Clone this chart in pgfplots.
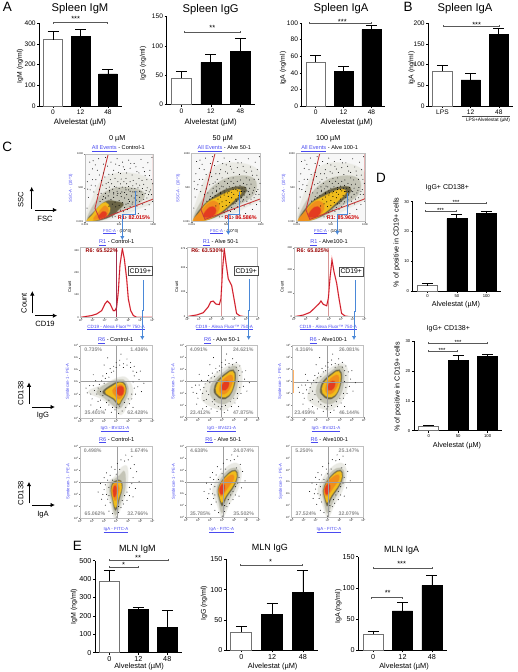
\documentclass[border=0pt]{standalone}
\usepackage{fontspec}
\setmainfont{Liberation Sans}
\usepackage{pgfplots}
\pgfplotsset{compat=1.18}
\usetikzlibrary{arrows.meta}
\definecolor{lnkb}{HTML}{4A4AF0}
\definecolor{arrb}{HTML}{4A88D8}
\definecolor{gatered}{HTML}{C83A3A}
\definecolor{c0}{HTML}{EAEAE4}
\definecolor{c1}{HTML}{C4C4B6}
\definecolor{c2}{HTML}{6A6446}
\definecolor{c3}{HTML}{F0BC1C}
\definecolor{c4}{HTML}{F08E1C}
\definecolor{c5}{HTML}{E43C20}
\definecolor{pct}{HTML}{8E8E8E}
\newcommand\F[1]{\fontsize{#1}{#1}\selectfont}
\newcommand\T[5][]{\node[inner sep=0pt,#1] at (#2pt,-#3pt) {\F{#4}#5};}
\newcommand\Pc[3]{\T[text=pct]{#1}{#2}{5.2}{\textbf{#3\%}}}
\newcommand\lnk[1]{\textcolor{lnkb}{\underline{#1}}}
\newcommand\tl[1]{10\raisebox{.7pt}{\F{1.7}#1}}
\newcommand\Br[3]{\draw[line width=.5pt,black!65] (#1pt,-#3pt-1pt) -- (#1pt,-#3pt+1pt) (#1pt,-#3pt) -- (#2pt,-#3pt) (#2pt,-#3pt-1pt) -- (#2pt,-#3pt+1pt);}
\newcommand\Blob[2]{\addplot[smooth cycle,tension=.7,fill=#1,draw=#1,draw opacity=.45,line width=1.3pt,forget plot] coordinates {#2};}
\pgfplotsset{
 barax/.style={scale only axis,anchor=south west,xmin=-.5,xmax=2.5,ymin=0,axis lines=left,
  axis line style={-,line width=.7pt},clip=false,ybar,bar shift=0pt,bar width=.68,
  xtick={0,1,2},tick style={black,line width=.6pt},major tick length=2pt,tick align=outside,
  /pgf/number format/assume math mode=true,
  error bars/y dir=plus,error bars/y explicit,
  error bars/error bar style={black,line width=.8pt},
  error bars/error mark options={rotate=90,black,line width=.8pt,mark size=5.5pt},
  xticklabel style={inner sep=1.5pt},yticklabel style={inner sep=1.5pt}},
 fA/.style={tick label style={font=\F{6.6}},xticklabels={0,12,48}},
 fE/.style={tick label style={font=\F{7.2}},xticklabels={0,12,48}},
 fD/.style={tick label style={font=\F{4.2}},xticklabels={0,50,100},
   error bars/error mark options={rotate=90,black,line width=.8pt,mark size=5.5pt}},
 whitebar/.style={fill=white,draw=black!55,line width=1pt},
 blackbar/.style={fill=black,draw=black,line width=.5pt},
 pbase/.style={scale only axis,anchor=south west,axis on top,
  axis line style={black!25,line width=.8pt},
  tick style={black!50,line width=.3pt},major tick length=1.2pt,tick align=outside,
  xtick pos=bottom,ytick pos=left,
  tick label style={font=\F{2.6},inner sep=.6pt},
  /pgf/number format/assume math mode=true},
 fsc/.style={pbase,xmin=0,xmax=1000,ymin=0,ymax=1000,xtick={0,500,1000},ytick={0,500,1000},
  xticklabels={0.001,500,1000},yticklabels={0.001,500,1000}},
 hist/.style={pbase,xmin=0,xmax=6,ymin=0,xtick={0,1,2,3,4,5,6},
  xticklabels={\tl0,\tl1,\tl2,\tl3,\tl4,\tl5,\tl6}},
 quad/.style={pbase,xmin=0,xmax=6,ymin=0,ymax=6,xtick={0,1,2,3,4,5,6},ytick={0,1,2,3,4,5,6},
  xticklabels={\tl0,\tl1,\tl2,\tl3,\tl4,\tl5,\tl6},
  yticklabels={\tl0,\tl1,\tl2,\tl3,\tl4,\tl5,\tl6}},
 dots/.style={only marks,mark=*,mark size=.2pt,forget plot,mark options={draw=none,fill=black!45}},
 ddots/.style={only marks,mark=*,mark size=.24pt,forget plot,mark options={draw=none,fill=black!75}},
 cross/.style={black!38,line width=.8pt,forget plot}
}
% hand-read speckle clouds
\newcommand\FSCdots{\addplot[dots] coordinates {
(120,900)(180,760)(240,610)(300,950)(330,820)(350,700)(380,880)(420,760)(440,640)(470,930)(500,830)(520,710)
(550,880)(580,770)(600,640)(640,910)(660,790)(690,690)(720,860)(760,740)(790,640)(820,920)(850,800)(880,680)
(920,870)(950,760)(970,620)(60,700)(90,540)(130,440)(160,620)(210,480)(260,540)(290,660)(340,580)(390,560)
(430,520)(480,590)(520,560)(570,590)(610,560)(660,590)(700,530)(750,560)(800,540)(860,550)(910,500)(960,470)
(820,440)(760,440)(700,440)(640,470)(580,430)(520,420)(470,450)(420,430)(360,440)(880,420)(930,400)(860,330)
(800,300)(740,300)(690,260)(630,270)(580,210)(520,170)(470,130)(400,70)(440,80)(560,150)(620,180)(660,220)
(30,200)(50,360)(40,480)(110,780)(70,880)(200,930)(270,850)(980,950)(990,300)(940,250)(880,180)(780,120)(700,100)(600,60)
(150,840)(210,690)(270,720)(310,560)(370,620)(405,700)(450,850)(490,730)(530,630)(560,810)(610,720)(670,860)(705,610)(745,810)(790,720)
(835,610)(870,740)(905,620)(945,680)(990,560)(35,590)(75,470)(110,620)(150,530)(185,400)(235,420)(270,370)(310,490)(355,510)(405,480)
(455,510)(500,490)(545,510)(595,500)(640,520)(685,490)(730,490)(775,500)(840,490)(895,460)(940,440)(975,400)(905,350)(845,260)(760,230)
};}
\newcommand\FSCband{\addplot[ddots] coordinates {
(300,350)(340,380)(380,330)(420,360)(440,290)(470,390)(500,310)(530,370)(550,280)(580,350)(610,400)(640,330)(680,380)(720,350)(760,390)
(800,360)(840,400)(400,260)(450,220)(500,240)(350,230)(300,420)(260,330)(220,300)(600,260)(650,300)(700,290)(750,320)(540,440)(600,470)
(660,450)(720,440)(480,420)(420,410)(360,460)(800,450)
};}
\newcommand\GGdots{\addplot[dots] coordinates {
(.6,2.1)(.8,2.7)(1,1.6)(1.2,2.3)(1.3,3.1)(1.5,1.4)(1.6,2.8)(1.7,.9)(1.9,3.5)(1.9,1.9)(2.1,.7)(2.2,3.7)(2.4,1.1)(2.5,4.1)
(2.6,.5)(2.8,4.3)(2.9,.7)(3,4.6)(3.2,.4)(3.3,4.8)(3.5,.6)(3.6,4.5)(3.8,.9)(3.9,4.9)(4.1,1.2)(4.2,4.6)(4.3,1.6)(4.5,4.3)
(4.6,2)(4.7,3.8)(4.8,2.6)(4.9,3.2)(5,3.9)(5.1,2.2)(1.1,3.6)(.9,1.1)(1.4,.7)(2,4.4)(4.4,.9)(5.3,2.9)(3.4,5.3)(2.3,5)
(.5,2.5)(.9,2)(1.1,2.7)(1.4,2)(1.5,2.5)(1.7,2.2)(1.8,3.1)(1.7,1.5)(2,2.9)(2.1,3.3)(2.2,1.3)(2.4,3.4)(2.6,3.8)(2.8,3.9)(3,4.2)
(3.3,4.4)(3.6,4.2)(3.9,4.4)(4.2,4.2)(4.4,3.9)(4.5,3.5)(4.4,3)(4.5,2.5)(4.3,2)(4,1.6)(3.7,1.3)(3.3,1)(3,.9)(2.7,.9)(2.4,1.5)
};}
\newcommand\GAdots{\addplot[dots] coordinates {
(1.5,2.2)(1.7,2.9)(1.8,1.6)(2,3.4)(2,2.4)(2.1,1.1)(2.2,3.8)(2.3,1.6)(2.4,.6)(2.5,3.6)(2.6,4.3)(2.7,.4)(2.9,4.1)(3,.1)
(3.1,4.6)(3.2,.5)(3.4,.9)(3.4,4.9)(3.6,1.2)(3.7,4.8)(3.9,1.5)(4,4.9)(4.1,1.9)(4.4,1.8)(4.5,4.5)(4.6,2.5)(4.7,3.9)(4.9,3.1)(4.3,5.2)(3.8,5.3)
(1.9,2)(2.1,2.8)(2.2,2)(2.3,3.2)(2.4,1.9)(2.4,2.6)(2.5,1.3)(2.7,3.2)(3,3.7)(3.2,1)(3.3,4.1)(3.5,1.5)(3.7,1.9)(3.9,2.2)(4.1,2.6)(4.3,2.9)(4.4,3.4)(4.2,4.2)
};}
% density contours
\newcommand\FSCa{%
\Blob{c0}{(15,15)(90,300)(280,640)(650,720)(990,580)(990,300)(800,200)(500,80)(250,15)}
\Blob{c1}{(30,25)(140,270)(300,440)(550,510)(850,440)(800,280)(550,180)(350,70)(150,18)}
\Blob{c2}{(40,25)(160,170)(310,300)(440,300)(560,260)(480,170)(400,90)(200,20)}
\Blob{c3}{(25,15)(100,90)(200,220)(300,285)(365,200)(330,105)(220,40)(100,12)}
\Blob{c4}{(125,40)(200,140)(295,235)(345,160)(300,70)(210,40)}
\Blob{c5}{(195,70)(265,150)(318,120)(290,70)(230,55)}}
\newcommand\FSCb{%
\Blob{c0}{(15,15)(70,300)(290,760)(650,860)(990,720)(990,350)(800,220)(500,80)(200,15)}
\Blob{c1}{(25,25)(130,280)(330,530)(600,660)(900,630)(900,400)(650,230)(400,90)(150,18)}
\Blob{c2}{(35,25)(130,190)(300,350)(520,480)(760,510)(760,400)(560,230)(380,90)(150,14)}
\Blob{c3}{(18,14)(100,110)(220,270)(400,370)(620,470)(720,430)(600,300)(420,140)(250,40)(100,10)}
\Blob{c4}{(28,18)(130,150)(270,290)(370,280)(400,190)(320,80)(180,25)}
\Blob{c5}{(170,90)(260,210)(340,200)(340,120)(260,65)}}
\newcommand\GGa{%
\Blob{c0}{(.7,2.2)(2,2.8)(3.3,3.4)(4,3.2)(4.4,2.2)(4,1.2)(3.4,.3)(2.8,.9)(1.8,1.6)}
\Blob{c1}{(1.4,2.2)(2.3,2.9)(3.3,3.2)(3.8,3)(4,2.2)(3.6,1.2)(3.2,.8)(2.6,1.2)(2,1.7)}
\Blob{c2}{(1.9,2.2)(2.6,2.75)(3.3,3.05)(3.75,2.8)(3.8,2.1)(3.45,1.45)(3.2,1.1)(2.8,1.55)(2.3,1.85)}
\Blob{c3}{(2.1,2.2)(2.7,2.65)(3.3,2.95)(3.7,2.7)(3.75,2.1)(3.4,1.5)(3.2,1.2)(2.85,1.65)(2.4,1.9)}
\Blob{c4}{(2.7,2.3)(3.1,2.7)(3.5,2.75)(3.7,2.3)(3.5,1.8)(3.2,1.6)(2.9,1.9)}
\Blob{c5}{(3,2.3)(3.3,2.65)(3.6,2.5)(3.55,2)(3.25,1.9)}}
\newcommand\GGb{%
\Blob{c0}{(1.3,1.8)(1.8,3)(3,4)(4.3,4.5)(4.7,3.4)(4.4,1.8)(3.4,.7)(2.6,.7)(1.6,1.2)}
\Blob{c1}{(2,2.2)(2.3,3)(3.2,3.8)(4.1,4.3)(4.35,3.4)(4.1,2)(3.4,1.2)(2.7,1.2)(2.2,1.6)}
\Blob{c2}{(2.35,2.3)(2.6,3)(3.35,3.7)(3.95,3.97)(4.15,3.3)(3.85,2.15)(3.3,1.55)(2.75,1.65)(2.45,1.95)}
\Blob{c3}{(2.5,2.4)(2.75,3)(3.4,3.6)(3.9,3.85)(4.05,3.25)(3.8,2.2)(3.3,1.7)(2.8,1.8)(2.55,2.05)}
\Blob{c4}{(2.8,2.4)(3,3)(3.5,3.45)(3.85,3.5)(3.9,3)(3.6,2.3)(3.2,1.95)(2.9,2.05)}
\Blob{c5}{(3,2.55)(3.2,2.95)(3.55,3)(3.55,2.6)(3.3,2.3)(3.05,2.3)}}
\newcommand\GAa{%
\Blob{c0}{(2.2,2.2)(2.3,3)(2.9,3.5)(3.5,4.3)(3.95,4.2)(3.9,2.5)(3.5,1.2)(3.05,.1)(2.8,.1)(2.55,1.2)}
\Blob{c1}{(2.45,2.2)(2.5,2.9)(2.9,3.3)(3.3,3.6)(3.7,3.9)(3.75,2.6)(3.4,1.4)(3.05,.4)(2.85,.4)(2.65,1.3)}
\Blob{c2}{(2.57,2.3)(2.68,2.9)(3,3.15)(3.38,3.15)(3.5,2.55)(3.27,1.65)(3.04,.8)(2.87,.8)(2.72,1.55)}
\Blob{c3}{(2.62,2.3)(2.75,2.85)(3.05,3.05)(3.35,3.05)(3.45,2.5)(3.2,1.7)(3.02,1)(2.88,1)(2.75,1.6)}
\Blob{c4}{(2.68,2.3)(2.8,2.8)(3.05,2.9)(3.25,2.5)(3.1,1.9)(2.95,1.5)(2.8,1.7)}
\Blob{c5}{(2.75,2.3)(2.85,2.7)(3,2.6)(3,2.1)(2.88,1.8)(2.78,1.95)}}
\newcommand\GAb{%
\Blob{c0}{(2.2,2.2)(2.5,3.1)(3.3,4.2)(4.2,4.6)(4.6,3.8)(4.3,2.4)(3.6,1.1)(3.15,.1)(2.9,.1)(2.55,1.2)}
\Blob{c1}{(2.55,2.2)(2.75,3)(3.4,3.9)(4.1,4.2)(4.4,3.6)(4.1,2.5)(3.5,1.4)(3.1,.5)(2.9,.5)(2.7,1.4)}
\Blob{c2}{(2.67,2.3)(2.93,3)(3.5,3.72)(4.08,4)(4.27,3.48)(3.97,2.63)(3.38,1.75)(3.04,1)(2.9,1.15)(2.76,1.65)}
\Blob{c3}{(2.72,2.3)(3,3)(3.55,3.65)(4.05,3.9)(4.2,3.45)(3.9,2.7)(3.35,1.9)(3.02,1.3)(2.9,1.4)(2.8,1.75)}
\Blob{c4}{(2.75,2.35)(3,2.95)(3.5,3.45)(3.9,3.6)(3.95,3.2)(3.6,2.7)(3.2,2.1)(2.95,1.8)(2.8,1.95)}
\Blob{c5}{(2.78,2.4)(3,2.8)(3.2,2.7)(3.15,2.2)(2.95,1.95)(2.82,2.1)}}
\newcommand\FSCbg{\addplot[fill=black!3,draw=none,forget plot] coordinates {(0,0)(0,1000)(1000,1000)(1000,0)} -- cycle;}
\newcommand\BarPanel[9]{%
\begin{axis}[barax,at={(#1pt,-#2pt)},width=#3pt,height=#4pt,ymax=#5,ytick={#6},#9]
\addplot[whitebar] coordinates {#7};
\addplot[blackbar] coordinates {#8};
\end{axis}}
\newcommand\GateA{\addplot[gatered,line width=.9pt,forget plot] coordinates {(340,1000)(1000,1000)(1000,335)(220,34)(146,197)(340,1000)};}
\newcommand\GateB{\addplot[gatered,line width=.9pt,forget plot] coordinates {(338,1000)(1000,1000)(1000,335)(193,34)(135,172)(338,1000)};}
\begin{document}
\begin{tikzpicture}
\useasboundingbox (0pt,0pt) rectangle (518pt,-672pt);
% ---------- A, B
\BarPanel{39.3}{106}{82.4}{82.7}{400}{0,100,200,300,400}{(0,320) +- (0,42)}{(1,338) +- (0,32) (2,155) +- (0,20)}{fA}
\BarPanel{166.7}{104.7}{88.3}{88}{150}{0,50,100,150}{(0,45) +- (0,11)}{(1,72) +- (0,13) (2,91) +- (0,22)}{fA}
\BarPanel{301.7}{106}{83.7}{83}{100}{0,20,40,60,80,100}{(0,53) +- (0,8)}{(1,42) +- (0,6) (2,92) +- (0,5)}{fA}
\BarPanel{428.3}{106}{84.7}{82.7}{200}{0,50,100,150,200}{(0,84) +- (0,14)}{(1,63) +- (0,15) (2,173) +- (0,15)}{tick label style={font=\F{6.6}},xticklabels={LPS,12,48}}
\T{80}{9}{11.2}{Spleen IgM}
\T{210.7}{10}{11.2}{Spleen IgG}
\T{341}{9}{11.2}{Spleen IgA}
\T{465}{9}{11.2}{Spleen IgA}
\T{80}{122.3}{7.8}{Alvelestat (µM)}
\T{210.7}{122.3}{7.8}{Alvelestat (µM)}
\T{346.7}{122.3}{7.8}{Alvelestat (µM)}
\T[rotate=90]{20}{66}{6.8}{IgM (ng/ml)}
\T[rotate=90]{143}{63.3}{6.8}{IgG (ng/ml)}
\T[rotate=90]{283}{68.3}{6.8}{IgA (ng/ml)}
\T[rotate=90]{411.5}{68.3}{6.8}{IgA (ng/ml)}
\Br{53.7}{107.3}{22.7}\T{75.7}{18.7}{7.5}{***}
\Br{184.3}{240.7}{32}\T{212.3}{28.2}{7.5}{**}
\Br{309.7}{371}{23}\T{342.3}{22}{7.5}{***}
\Br{443.7}{499}{26}\T{476.7}{24.5}{7.5}{***}
\draw[line width=.5pt,black!70] (461.7pt,-116pt) -- (510pt,-116pt);
\T{488}{120}{4.8}{LPS+Alvelestat (µM)}
\T{7.3}{7.3}{13.5}{A}
\T{408}{7.3}{13.5}{B}
\T{7.3}{146.7}{13.5}{C}
\T{381}{178.3}{13.5}{D}
\T{77.3}{545.7}{13.5}{E}
% ---------- C row 1
\begin{axis}[fsc,at={(85pt,-221.7pt)},width=68.3pt,height=67.7pt]
\FSCbg \FSCa \FSCdots \FSCband \GateA
\end{axis}
\begin{axis}[fsc,at={(191.7pt,-221.7pt)},width=69pt,height=68.4pt]
\FSCbg \FSCb \FSCdots \FSCband \GateB
\end{axis}
\begin{axis}[fsc,at={(296.7pt,-221.7pt)},width=68.3pt,height=68.4pt]
\FSCbg \FSCb \FSCdots \FSCband \GateB
\end{axis}
% ---------- C row 2
\begin{axis}[hist,at={(80.7pt,-317.3pt)},width=71.6pt,height=69.6pt,ymax=313,ytick={0,100,200,300}]
\addplot[red!35,line width=1.4pt,forget plot] coordinates {(0,0)(.36,3)(.92,8)(1.34,15)(1.76,30)(2.04,61)(2.23,73)(2.46,61)(2.73,30)(2.87,30)(3.01,45)(3.15,114)(3.29,235)(3.49,308)(3.65,265)(3.85,174)(3.99,83)(4.19,30)(4.41,8)(4.69,0)(6,0)};
\addplot[color={rgb,255:red,200;green,24;blue,40},line width=.8pt] coordinates {(0,0)(.36,3)(.92,8)(1.34,15)(1.76,30)(2.04,61)(2.23,73)(2.46,61)(2.73,30)(2.87,30)(3.01,45)(3.15,114)(3.29,235)(3.49,308)(3.65,265)(3.85,174)(3.99,83)(4.19,30)(4.41,8)(4.69,0)(6,0)};
\addplot[color={rgb,255:red,160;green,48;blue,80},line width=.8pt] coordinates {(2.96,0)(2.96,313)};
\end{axis}
\begin{axis}[hist,at={(187.3pt,-316.7pt)},width=70.4pt,height=69.4pt,ymax=280,ytick={0,100,200,275}]
\addplot[color={rgb,255:red,215;green,150;blue,150},line width=1.5pt] coordinates {(2.93,0)(2.93,280)};
\addplot[color={rgb,255:red,215;green,150;blue,150},line width=1.5pt] coordinates {(.02,0)(.02,280)};
\addplot[red!35,line width=1.4pt,forget plot] coordinates {(0,0)(.28,3)(.8,7)(1.36,16)(1.79,40)(1.99,60)(2.21,63)(2.44,51)(2.73,49)(2.87,73)(3.01,193)(3.15,273)(3.29,220)(3.49,153)(3.78,126)(3.98,73)(4.2,13)(4.49,3)(4.91,0)(6,0)};
\addplot[color={rgb,255:red,200;green,24;blue,40},line width=.8pt] coordinates {(0,0)(.28,3)(.8,7)(1.36,16)(1.79,40)(1.99,60)(2.21,63)(2.44,51)(2.73,49)(2.87,73)(3.01,193)(3.15,273)(3.29,220)(3.49,153)(3.78,126)(3.98,73)(4.2,13)(4.49,3)(4.91,0)(6,0)};
\end{axis}
\begin{axis}[hist,at={(294pt,-316.7pt)},width=70.3pt,height=69.4pt,ymax=292,ytick={0,100,200,290}]
\addplot[color={rgb,255:red,215;green,150;blue,150},line width=1.5pt] coordinates {(2.93,0)(2.93,292)};
\addplot[red!35,line width=1.4pt,forget plot] coordinates {(0,0)(.37,3)(.8,7)(1.36,18)(1.79,38)(2.16,56)(2.3,66)(2.5,52)(2.79,46)(2.93,77)(3.07,162)(3.24,239)(3.41,190)(3.64,141)(3.84,77)(4.06,14)(4.35,3)(4.78,0)(6,0)};
\addplot[color={rgb,255:red,200;green,24;blue,40},line width=.8pt] coordinates {(0,0)(.37,3)(.8,7)(1.36,18)(1.79,38)(2.16,56)(2.3,66)(2.5,52)(2.79,46)(2.93,77)(3.07,162)(3.24,239)(3.41,190)(3.64,141)(3.84,77)(4.06,14)(4.35,3)(4.78,0)(6,0)};
\end{axis}
% ---------- C row 3
\begin{axis}[quad,at={(80pt,-418.3pt)},width=72.3pt,height=72.6pt]
\GGa \GGdots
\addplot[cross] coordinates {(2.99,0)(2.99,6)};
\addplot[cross] coordinates {(0,3.02)(6,3.02)};
\addplot[orange!60,line width=.4pt,forget plot] coordinates {(.04,1)(.04,3)};
\end{axis}
\begin{axis}[quad,at={(186pt,-417.3pt)},width=71.7pt,height=71.6pt]
\GGb \GGdots
\addplot[cross] coordinates {(2.99,0)(2.99,6)};
\addplot[cross] coordinates {(0,2.98)(6,2.98)};
\addplot[orange!60,line width=.4pt,forget plot] coordinates {(.04,1.5)(.04,4)};
\end{axis}
\begin{axis}[quad,at={(292.3pt,-417.3pt)},width=71.4pt,height=71.6pt]
\GGb \GGdots
\addplot[cross] coordinates {(2.97,0)(2.97,6)};
\addplot[cross] coordinates {(0,2.95)(6,2.95)};
\addplot[orange!60,line width=.4pt,forget plot] coordinates {(.04,2)(.04,4)};
\end{axis}
% ---------- C row 4
\begin{axis}[quad,at={(80pt,-518.3pt)},width=72.3pt,height=71.6pt]
\GAa \GAdots
\addplot[cross] coordinates {(3.1,0)(3.1,6)};
\addplot[cross] coordinates {(0,2.98)(6,2.98)};
\end{axis}
\begin{axis}[quad,at={(186pt,-517.3pt)},width=72.3pt,height=70.6pt]
\GAb \GAdots
\addplot[cross] coordinates {(3.1,0)(3.1,6)};
\addplot[cross] coordinates {(0,2.94)(6,2.94)};
\end{axis}
\begin{axis}[quad,at={(291.7pt,-517.3pt)},width=71.6pt,height=70.6pt]
\GAb \GAdots
\addplot[cross] coordinates {(3.1,0)(3.1,6)};
\addplot[cross] coordinates {(0,2.94)(6,2.94)};
\end{axis}
% headers
\T{117.3}{138.3}{7.2}{0 µM}
\T{222.7}{138.3}{7.2}{50 µM}
\T{328.3}{138.3}{7.2}{100 µM}
\T{118.3}{148.3}{5.6}{\lnk{All Events} - Control-1}
\T{224.3}{148.3}{5.6}{\lnk{All Events} - Alve 50-1}
\T{329.7}{148.3}{5.6}{\lnk{All Events} - Alve 100-1}
\foreach \x in {70.7,178.3,283.7} {\T[rotate=90,text=lnkb]{\x}{188.3}{4.2}{SSC-A · (10\^{}3)}}
\foreach \x in {117.3,224.3,328.3} {\T{\x}{231.7}{4.2}{\lnk{FSC-A} · (10\^{}3)}}
\T[text=red!80!black]{134}{218}{5.4}{\textbf{R1: 82.015\%}}
\T[text=red!80!black]{240.7}{218}{5.4}{\textbf{R1: 86.586\%}}
\T[text=red!80!black]{343}{218}{5.4}{\textbf{R1: 85.963\%}}
\T{116.7}{242.7}{5.6}{\lnk{R1} - Control-1}
\T{220.7}{242.7}{5.6}{\lnk{R1} - Alve 50-1}
\T{329}{242.7}{5.6}{\lnk{R1} - Alve100-1}
\T[text=red!60!black]{101.7}{251}{5.4}{\textbf{R6: 65.522\%}}
\T[text=red!60!black]{207.3}{251}{5.4}{\textbf{R6: 63.530\%}}
\T[text=red!60!black]{312.7}{251}{5.4}{\textbf{R6: 65.825\%}}
\T[rotate=90]{69.7}{286.7}{4.2}{Count}
\T[rotate=90]{176.7}{286.7}{4.2}{Count}
\T[rotate=90]{282.3}{286.7}{4.2}{Count}
\foreach \x in {116,224.3,328.3} {\T{\x}{327.5}{4.6}{\lnk{CD19 - Alexa Fluor™ 750-A}}}
\T{115.7}{340.7}{5.6}{\lnk{R6} - Control-1}
\T{222}{340.7}{5.6}{\lnk{R6} - Alve 50-1}
\T{328.3}{340.7}{5.6}{\lnk{R6} - Alve100-1}
\T{116.7}{440}{5.6}{\lnk{R6} - Control-1}
\T{223.3}{440}{5.6}{\lnk{R6} - Alve 50-1}
\T{329.3}{440}{5.6}{\lnk{R6} - Alve100-1}
\foreach \x in {67.7,173.3,280} {\T[rotate=90,text=lnkb]{\x}{381.7}{4.2}{Syndecan-1 - PE-A}}
\foreach \x in {68.3,173.7,280.7} {\T[rotate=90,text=lnkb]{\x}{481.7}{4.2}{Syndecan-1 - PE-A}}
\T{115}{429.3}{4.4}{\lnk{IgG - BV421-A}}
\T{221.7}{429.3}{4.4}{\lnk{IgG - BV421-A}}
\T{326}{429.3}{4.4}{\lnk{IgG - BV421-A}}
\T{116}{530}{4.4}{\lnk{IgA - FITC-A}}
\T{221.7}{530}{4.4}{\lnk{IgA - FITC-A}}
\T{329}{530}{4.4}{\lnk{IgA - FITC-A}}
% percentages
\Pc{93.3}{349.3}{0.735}\Pc{139.3}{349.3}{1.436}\Pc{95}{413}{35.401}\Pc{137.7}{413}{62.428}
\Pc{198.7}{349.3}{4.091}\Pc{243.3}{349.3}{24.621}\Pc{200.3}{413}{23.412}\Pc{243.3}{413}{47.875}
\Pc{304.3}{349.3}{4.316}\Pc{349.3}{349.3}{26.081}\Pc{304.7}{413}{23.459}\Pc{349.3}{413}{46.144}
\Pc{92.7}{450.3}{0.498}\Pc{139.3}{450.3}{1.674}\Pc{95}{514}{65.062}\Pc{137.7}{514}{32.766}
\Pc{199}{450.3}{4.638}\Pc{243.7}{450.3}{24.074}\Pc{200.3}{514}{35.785}\Pc{243.7}{514}{35.502}
\Pc{304.3}{450.3}{5.250}\Pc{349}{450.3}{25.147}\Pc{306}{514}{37.524}\Pc{349}{514}{32.079}
% blue arrows
\tikzset{ba/.style={arrb,line width=.9pt,-{Latex[length=4pt,width=4.5pt]}}}
\draw[ba] (135pt,-190.7pt) -- (135pt,-214.3pt) -- (122.3pt,-214.3pt) -- (122.3pt,-240pt);
\draw[ba] (239pt,-191.7pt) -- (239pt,-214.3pt) -- (228.3pt,-214.3pt) -- (228.3pt,-235pt);
\draw[ba] (347pt,-193.3pt) -- (347pt,-214.3pt) -- (337.3pt,-214.3pt) -- (337.3pt,-235pt);
\draw[ba] (143.3pt,-280pt) -- (143.3pt,-310pt) -- (142.3pt,-310pt) -- (142.3pt,-340pt);
\draw[ba] (249.3pt,-279.3pt) -- (249.3pt,-310pt) -- (248.7pt,-310pt) -- (248.7pt,-340pt);
\draw[ba] (355pt,-280pt) -- (355pt,-311pt) -- (354pt,-311pt) -- (354pt,-340pt);
% CD19+ boxes
\tikzset{cdb/.style={draw=black!70,fill=white,line width=.7pt,inner sep=1pt,minimum width=24.3pt,minimum height=9pt}}
\node[cdb] at (140.3pt,-271.2pt) {\F{6.8}CD19+};
\node[cdb] at (246.2pt,-271.3pt) {\F{6.8}CD19+};
\node[cdb] at (351.2pt,-271.5pt) {\F{6.8}CD19+};
% axes icons
\tikzset{ia/.style={black,line width=.9pt,-{Latex[length=4.5pt,width=4.5pt]}}}
\draw[ia] (31.7pt,-209pt) -- (31.7pt,-186.7pt);
\draw[ia] (35pt,-210pt) -- (57.3pt,-210pt);
\T[rotate=90]{20.7}{200}{7.6}{SSC}
\T{45}{219.3}{7.6}{FSC}
\draw[ia] (32.3pt,-313.3pt) -- (32.3pt,-291pt);
\draw[ia] (35pt,-315.7pt) -- (57.3pt,-315.7pt);
\T[rotate=90]{24}{303.3}{7.6}{Count}
\T{45}{324.3}{7.6}{CD19}
\draw[ia] (29pt,-404pt) -- (29pt,-382.3pt);
\draw[ia] (32.3pt,-407pt) -- (55pt,-407pt);
\T[rotate=90]{20.7}{393.3}{7.6}{CD138}
\T{43}{416}{7.6}{IgG}
\draw[ia] (29pt,-503.3pt) -- (29pt,-481.7pt);
\draw[ia] (32.3pt,-505pt) -- (55pt,-505pt);
\T[rotate=90]{20.7}{493.3}{7.6}{CD138}
\T{43}{514.3}{7.6}{IgA}
% ---------- D
\BarPanel{412.7}{291}{88.3}{89.3}{30}{0,10,20,30}{(0,1.7) +- (0,.7)}{(1,24.3) +- (0,1.4) (2,26) +- (0,.9)}{fD}
\BarPanel{414}{430.7}{88.3}{89.4}{30}{0,10,20,30}{(0,1.5) +- (0,.4)}{(1,23.7) +- (0,1.7) (2,24.9) +- (0,.8)}{fD}
\T{447.3}{187.7}{7}{IgG+ CD138+}
\T{448.3}{328.3}{7}{IgG+ CD138+}
\T[rotate=90]{396.7}{242.3}{7.2}{\% of positive in CD19+ cells}
\T[rotate=90]{397.7}{386.7}{7.2}{\% of positive in CD19+ cells}
\T{456}{305}{7.2}{Alvelestat (µM)}
\T{457}{445.7}{7.2}{Alvelestat (µM)}
\Br{425.7}{486.3}{203.3}\T{456}{202.5}{6}{***}
\Br{425.7}{456.7}{211}\T{440.5}{210.3}{6}{***}
\Br{428}{487.7}{343.3}\T{458}{342.5}{6}{***}
\Br{428}{457}{351.3}\T{442}{350.5}{6}{***}
% ---------- E
\BarPanel{95}{652.7}{86.7}{92}{500}{0,100,200,300,400,500}{(0,388) +- (0,62)}{(1,235) +- (0,12) (2,138) +- (0,91)}{fE}
\BarPanel{226}{650.3}{92.3}{91}{150}{0,50,100,150}{(0,30) +- (0,10)}{(1,59) +- (0,19) (2,96) +- (0,35)}{fE}
\BarPanel{358.3}{650.3}{88.4}{93.6}{150}{0,50,100,150}{(0,26) +- (0,5)}{(1,63) +- (0,14) (2,104) +- (0,16)}{fE}
\T{137.3}{549}{9}{MLN IgM}
\T{270}{548.3}{9}{MLN IgG}
\T{401.7}{550}{9}{MLN IgA}
\T{139}{666.7}{7.4}{Alvelestat (µM)}
\T{272.7}{666.7}{7.4}{Alvelestat (µM)}
\T{404}{666.7}{7.4}{Alvelestat (µM)}
\T[rotate=90]{74}{606.7}{7}{IgM (ng/ml)}
\T[rotate=90]{204}{603.3}{7}{IgG (ng/ml)}
\T[rotate=90]{338.3}{606.7}{7}{IgA (ng/ml)}
\Br{109.7}{168.3}{560.3}\T{138}{557.5}{7.5}{**}
\Br{109.7}{138.3}{567}\T{123.7}{565}{7.5}{*}
\Br{240}{302.7}{565}\T{270.7}{561.5}{7.5}{*}
\Br{373.7}{432.3}{568}\T{401.7}{564}{7.5}{***}
\Br{371.7}{402.7}{597.7}\T{387.7}{592.5}{7.5}{**}
\end{tikzpicture}
\end{document}
